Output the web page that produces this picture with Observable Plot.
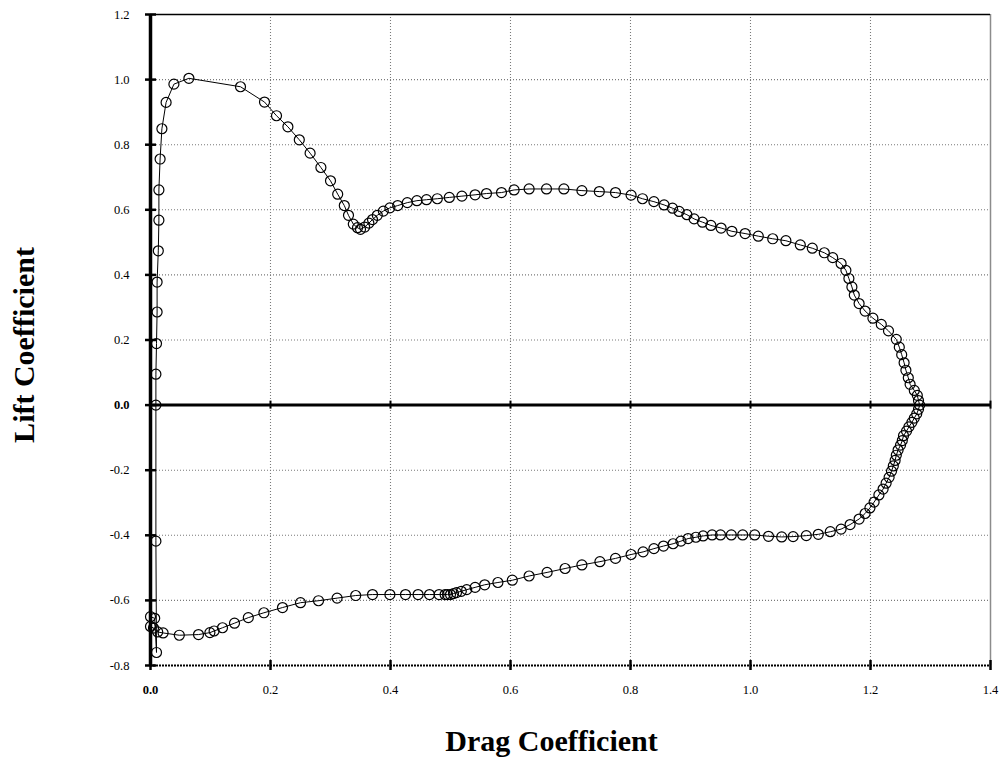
<!DOCTYPE html>
<html>
<head>
<meta charset="utf-8">
<script src="https://cdn.jsdelivr.net/npm/d3@7"></script>
<script src="https://cdn.jsdelivr.net/npm/@observablehq/plot@0.6"></script>
<style>
  html, body { margin: 0; padding: 0; background: #ffffff; }
  #chart svg { display: block; }
</style>
</head>
<body>
<div id="chart"></div>
<script>
// Drag polar: lift coefficient against drag coefficient, full range of incidence
const dragCoef = [
  0.009, 0.009, 0.010, 0.011, 0.011, 0.013, 0.014, 0.014, 0.016, 0.019, 0.026, 0.039, 0.064,
  0.150, 0.190, 0.210, 0.229, 0.248, 0.266, 0.284, 0.300, 0.312, 0.323,
  0.330, 0.338, 0.345, 0.350, 0.357, 0.364, 0.370, 0.378, 0.388, 0.399,
  0.412, 0.428, 0.444, 0.460, 0.478, 0.498, 0.519, 0.541, 0.560, 0.585,
  0.606, 0.631, 0.660, 0.689, 0.719, 0.748, 0.775, 0.801, 0.820, 0.839,
  0.856, 0.870, 0.881, 0.894, 0.906, 0.920, 0.934, 0.951, 0.969, 0.991,
  1.013, 1.037, 1.059, 1.083, 1.103, 1.123, 1.137, 1.151, 1.159, 1.164,
  1.169, 1.173, 1.181, 1.191, 1.204, 1.218, 1.230, 1.243, 1.248, 1.252,
  1.256, 1.259, 1.263, 1.266, 1.273, 1.278, 1.280, 1.282,
  1.280, 1.277, 1.273, 1.269, 1.264, 1.260, 1.255, 1.253, 1.250, 1.246,
  1.243, 1.241, 1.238, 1.235, 1.231, 1.226, 1.221, 1.214, 1.206, 1.199,
  1.191, 1.181, 1.166, 1.151, 1.133, 1.113, 1.093, 1.071, 1.052, 1.030,
  1.007, 0.987, 0.968, 0.950, 0.936, 0.921, 0.909, 0.896, 0.884, 0.871,
  0.855, 0.839, 0.821, 0.801, 0.775, 0.749, 0.719, 0.691, 0.661, 0.631,
  0.603, 0.579, 0.557, 0.541, 0.527, 0.518, 0.510, 0.505, 0.500, 0.495,
  0.491, 0.481, 0.465, 0.446, 0.425, 0.399, 0.370, 0.342, 0.311, 0.280,
  0.250, 0.220, 0.189, 0.163, 0.140, 0.120, 0.106, 0.099, 0.080, 0.048,
  0.021, 0.012, 0.005, 0.000, 0.000, 0.007, 0.010, 0.009
];

const liftCoef = [
  0.000, 0.095, 0.189, 0.286, 0.378, 0.474, 0.568, 0.661, 0.756, 0.849, 0.930, 0.986, 1.004,
  0.978, 0.931, 0.889, 0.855, 0.815, 0.774, 0.730, 0.689, 0.648, 0.613,
  0.583, 0.556, 0.545, 0.540, 0.547, 0.559, 0.570, 0.583, 0.596, 0.606,
  0.613, 0.622, 0.628, 0.631, 0.634, 0.638, 0.642, 0.646, 0.650, 0.653,
  0.661, 0.664, 0.664, 0.664, 0.659, 0.656, 0.653, 0.645, 0.634, 0.625,
  0.615, 0.605, 0.595, 0.585, 0.572, 0.562, 0.552, 0.544, 0.534, 0.527,
  0.519, 0.511, 0.505, 0.492, 0.482, 0.468, 0.453, 0.435, 0.414, 0.389,
  0.363, 0.338, 0.312, 0.289, 0.267, 0.248, 0.228, 0.202, 0.178, 0.155,
  0.130, 0.107, 0.084, 0.064, 0.045, 0.030, 0.014, 0.000,
  -0.013, -0.027, -0.040, -0.053, -0.067, -0.080, -0.094, -0.109, -0.123, -0.138,
  -0.154, -0.170, -0.187, -0.203, -0.222, -0.240, -0.258, -0.276, -0.298, -0.316,
  -0.333, -0.350, -0.367, -0.381, -0.389, -0.397, -0.401, -0.404, -0.405, -0.403,
  -0.399, -0.399, -0.399, -0.399, -0.399, -0.402, -0.406, -0.410, -0.418, -0.426,
  -0.433, -0.441, -0.451, -0.459, -0.471, -0.481, -0.491, -0.502, -0.514, -0.525,
  -0.538, -0.545, -0.552, -0.560, -0.567, -0.572, -0.576, -0.579, -0.582, -0.582,
  -0.582, -0.582, -0.582, -0.582, -0.582, -0.582, -0.582, -0.585, -0.593, -0.601,
  -0.607, -0.622, -0.638, -0.653, -0.670, -0.684, -0.694, -0.699, -0.705, -0.707,
  -0.700, -0.697, -0.685, -0.680, -0.650, -0.655, -0.760, -0.418
];

const xTicks = [0, 0.2, 0.4, 0.6, 0.8, 1.0, 1.2, 1.4];
const yTicks = [-0.8, -0.6, -0.4, -0.2, 0, 0.2, 0.4, 0.6, 0.8, 1.0, 1.2];
const xTitle = "Drag Coefficient";
const yTitle = "Lift Coefficient";

const polar = dragCoef.map((cd, i) => ({cd, cl: liftCoef[i]}));
const fmt = d => d.toFixed(1);
const gridColor = "#7a7a7a";
const tickFont = 12.5;
const isZero = d => d === 0;
const notZero = d => d !== 0;

const chart = Plot.plot({
  width: 1001,
  height: 759,
  marginLeft: 150,
  marginRight: 11,
  marginTop: 14,
  marginBottom: 94,
  x: {domain: [0, 1.4], label: null, axis: null},
  y: {domain: [-0.8, 1.2], label: null, axis: null},
  style: {
    fontFamily: "'Liberation Serif', 'Times New Roman', serif",
    color: "black",
    background: "white"
  },
  marks: [
    // dotted grid
    Plot.ruleX(xTicks.filter(d => d > 0 && d < 1.4), {stroke: gridColor, strokeWidth: 1.1, strokeDasharray: "1,2"}),
    Plot.ruleY(yTicks.filter(d => d > -0.8 && d < 1.2 && d !== 0), {stroke: gridColor, strokeWidth: 1.1, strokeDasharray: "1,2"}),
    // frame
    Plot.ruleX([1.4], {stroke: "#8c8c8c", strokeWidth: 1.5}),
    Plot.ruleY([1.2], {stroke: "black", strokeWidth: 1.3}),
    Plot.ruleY([-0.8], {stroke: "black", strokeWidth: 2, strokeDasharray: "2,1"}),
    // axes through the origin
    Plot.ruleY([0], {stroke: "black", strokeWidth: 3}),
    Plot.ruleX([0], {stroke: "black", strokeWidth: 3.5}),
    // cross ticks
    Plot.ruleX(xTicks, {y1: 0, y2: 0, insetTop: -4, insetBottom: -4, stroke: "black", strokeWidth: 2}),
    Plot.ruleX(xTicks, {y1: -0.8, y2: -0.8, insetTop: -5, insetBottom: -5, stroke: "black", strokeWidth: 2.5}),
    Plot.ruleY(yTicks, {x1: 0, x2: 0, insetLeft: -5, insetRight: -6, stroke: "black", strokeWidth: 2.5}),
    // tick labels
    Plot.text(xTicks.filter(notZero), {x: d => d, y: -0.8, dy: 24, text: fmt, fontSize: tickFont}),
    Plot.text(xTicks.filter(isZero), {x: d => d, y: -0.8, dy: 24, text: fmt, fontSize: tickFont, fontWeight: "bold"}),
    Plot.text(yTicks.filter(notZero), {x: 0, y: d => d, dx: -21, textAnchor: "end", text: fmt, fontSize: tickFont}),
    Plot.text(yTicks.filter(isZero), {x: 0, y: d => d, dx: -21, textAnchor: "end", text: fmt, fontSize: tickFont, fontWeight: "bold"}),
    // polar curve
    Plot.line(polar, {x: "cd", y: "cl", curve: "linear-closed", stroke: "black", strokeWidth: 1}),
    Plot.dot(polar, {x: "cd", y: "cl", r: 5, stroke: "black", strokeWidth: 1.2, fill: "none"}),
    // axis titles
    Plot.text([xTitle], {text: d => d, frameAnchor: "bottom", textAnchor: "middle", dx: -19, dy: 85, fontSize: 30, fontWeight: "bold"}),
    Plot.text([yTitle], {text: d => d, frameAnchor: "left", textAnchor: "middle", dx: -126, dy: 5, rotate: -90, fontSize: 30, fontWeight: "bold"})
  ]
});

document.getElementById("chart").append(chart);
</script>
</body>
</html>
